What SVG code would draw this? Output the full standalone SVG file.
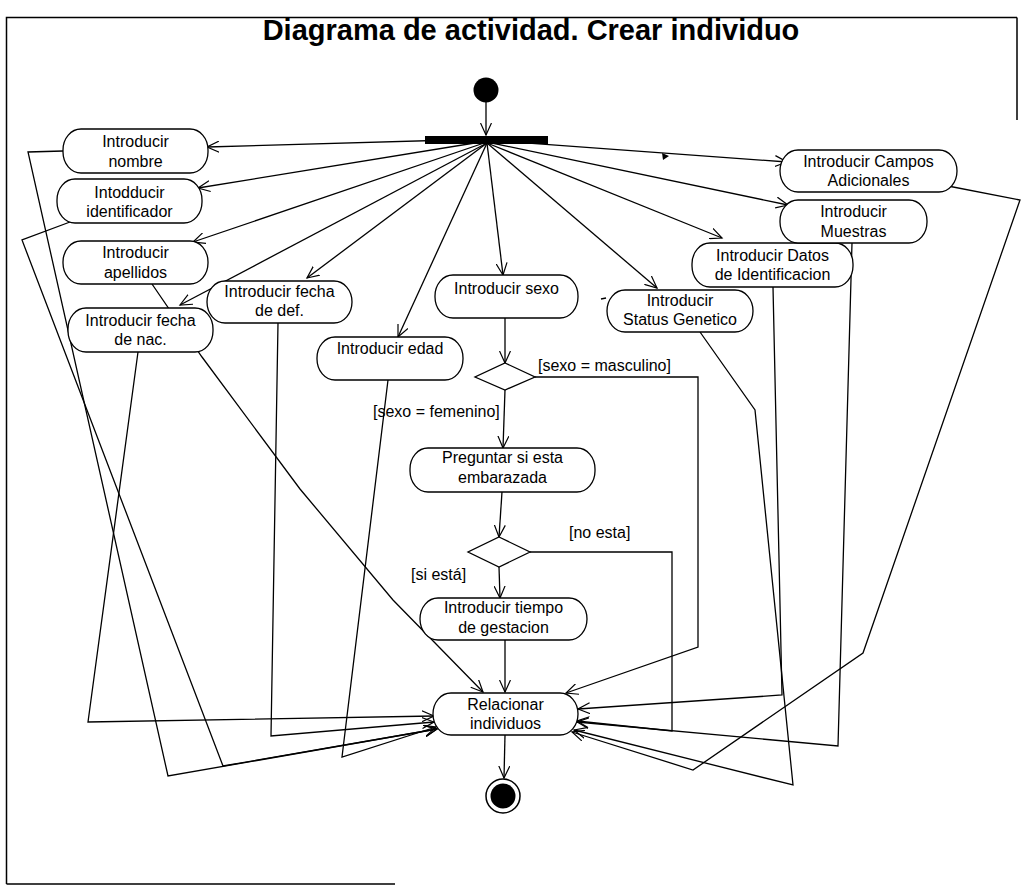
<svg xmlns="http://www.w3.org/2000/svg" width="1024" height="887" viewBox="0 0 1024 887">
  <style>
    .frame { stroke: #000; stroke-width: 1.5; fill: none; }
    .act { fill: #fff; stroke: #000; stroke-width: 1.3; }
    .lbl { font-family: "Liberation Sans", Arial, sans-serif; font-size: 16px; fill: #000; }
    .ctr { text-anchor: middle; }
    .title { font-family: "Liberation Sans", Arial, sans-serif; font-size: 29px; font-weight: bold; text-anchor: middle; fill: #000; }
    .flow { fill: none; stroke: #000; stroke-width: 1.3; stroke-linejoin: miter; }
    .arr { marker-end: url(#open); }
  </style>
  <defs>
    <marker id="open" markerWidth="14" markerHeight="12" refX="12" refY="6" orient="auto" markerUnits="userSpaceOnUse">
      <path d="M0,0.5 L12,6 L0,11.5" fill="none" stroke="#000" stroke-width="1.2"/>
    </marker>
  </defs>

  <rect width="1024" height="887" fill="#fff"/>

  <!-- diagram frame -->
  <g id="frame">
    <path class="frame" d="M6.5,884 L6.5,17.5 L1017,17.5 M1017,17.5 L1017,120 M6.5,884 L395,884"/>
  </g>

  <text class="title" x="531" y="40">Diagrama de actividad. Crear individuo</text>

  <!-- control flows -->
  <g id="connectors">
    <path class="flow arr" d="M486,102 L486,135"/>
    <!-- fork branches -->
    <path class="flow arr" d="M487,139 L207,147"/>
    <path class="flow arr" d="M487,141 L198,188"/>
    <path class="flow arr" d="M487,142 L193,242"/>
    <path class="flow arr" d="M487,143 L180,305"/>
    <path class="flow arr" d="M487,143 L307,278"/>
    <path class="flow arr" d="M487,143 L398,337"/>
    <path class="flow arr" d="M487,143 L503,275"/>
    <path class="flow arr" d="M487,143 L657,288"/>
    <path class="flow arr" d="M487,143 L722,238"/>
    <path class="flow arr" d="M487,142 L788,205"/>
    <path class="flow arr" d="M487,140 L787,162"/>
    <polygon points="662,153 669,156 663,160" fill="#000"/>
    <path class="flow" d="M601,299 L606,298"/>

    <!-- joins into Relacionar individuos -->
    <path class="flow arr" d="M63,151 L28,152 L168,776 L437,729"/>
    <path class="flow arr" d="M70,222 L22,240 L223,766 L437,729"/>
    <path class="flow arr" d="M152,284 L202,357 L300,489 L393,600 L483,692"/>
    <path class="flow arr" d="M138,352 L88,722 L434,716"/>
    <path class="flow arr" d="M278,323 L271,736 L434,722"/>
    <path class="flow arr" d="M388,380 L342,757 L436,727"/>

    <!-- decision flows -->
    <path class="flow arr" d="M505,318 L505,363"/>
    <path class="flow arr" d="M535,377 L698,377 L698,647 L566,693"/>
    <path class="flow arr" d="M505,390 L503,448"/>
    <path class="flow arr" d="M502,492 L499,537"/>
    <path class="flow arr" d="M530,552 L672,552 L672,731 L577,721"/>
    <path class="flow arr" d="M499,567 L500,598"/>
    <path class="flow arr" d="M505,640 L505,692"/>

    <path class="flow arr" d="M700,332 L755,410 L793,785 L574,730"/>
    <path class="flow arr" d="M773,287 L782,695 L578,709"/>
    <path class="flow arr" d="M852,243 L838,746 L577,722"/>
    <path class="flow arr" d="M948,186 L1020,200 L863,653 L693,770 L572,732"/>

    <path class="flow arr" d="M505,735 L504,778"/>
  </g>

  <!-- guard labels -->
  <g id="guards">
    <text class="lbl" x="538" y="371">[sexo = masculino]</text>
    <text class="lbl" x="373" y="417">[sexo = femenino]</text>
    <text class="lbl" x="569" y="538">[no esta]</text>
    <text class="lbl" x="411" y="580">[si está]</text>
  </g>

  <!-- initial node and fork bar -->
  <g id="start">
    <circle cx="486" cy="90" r="12.5" fill="#000"/>
  </g>
  <g id="fork">
    <rect x="425" y="136" width="123" height="8" fill="#000"/>
  </g>

  <!-- activities -->
  <g id="n-nombre">
    <rect class="act" x="63" y="129" width="145" height="44" rx="18" ry="21"/>
    <text class="lbl ctr" x="135.5" y="147">Introducir</text>
    <text class="lbl ctr" x="135.5" y="167">nombre</text>
  </g>
  <g id="n-identificador">
    <rect class="act" x="57" y="179" width="145" height="44" rx="18" ry="21"/>
    <text class="lbl ctr" x="129.5" y="198">Intodducir</text>
    <text class="lbl ctr" x="129.5" y="217">identificador</text>
  </g>
  <g id="n-apellidos">
    <rect class="act" x="63" y="241" width="145" height="43" rx="18" ry="21"/>
    <text class="lbl ctr" x="135.5" y="258">Introducir</text>
    <text class="lbl ctr" x="135.5" y="278">apellidos</text>
  </g>
  <g id="n-fecha-nac">
    <rect class="act" x="68" y="308" width="145" height="44" rx="18" ry="21"/>
    <text class="lbl ctr" x="140.5" y="326">Introducir fecha</text>
    <text class="lbl ctr" x="140.5" y="345">de nac.</text>
  </g>
  <g id="n-fecha-def">
    <rect class="act" x="207" y="281" width="145" height="42" rx="18" ry="21"/>
    <text class="lbl ctr" x="279.5" y="297">Introducir fecha</text>
    <text class="lbl ctr" x="279.5" y="316">de def.</text>
  </g>
  <g id="n-edad">
    <rect class="act" x="317" y="337" width="146" height="43" rx="18" ry="21"/>
    <text class="lbl ctr" x="390" y="354">Introducir edad</text>
  </g>
  <g id="n-sexo">
    <rect class="act" x="435" y="275" width="143" height="43" rx="18" ry="21"/>
    <text class="lbl ctr" x="506.5" y="294">Introducir sexo</text>
  </g>
  <g id="n-status">
    <rect class="act" x="607" y="290" width="146" height="42" rx="18" ry="21"/>
    <text class="lbl ctr" x="680" y="306">Introducir</text>
    <text class="lbl ctr" x="680" y="325">Status Genetico</text>
  </g>
  <g id="n-datos">
    <rect class="act" x="692" y="243" width="161" height="44" rx="18" ry="21"/>
    <text class="lbl ctr" x="772.5" y="261">Introducir Datos</text>
    <text class="lbl ctr" x="772.5" y="280">de Identificacion</text>
  </g>
  <g id="n-muestras">
    <rect class="act" x="780" y="200" width="147" height="43" rx="18" ry="21"/>
    <text class="lbl ctr" x="853.5" y="217">Introducir</text>
    <text class="lbl ctr" x="853.5" y="237">Muestras</text>
  </g>
  <g id="n-campos">
    <rect class="act" x="780" y="150" width="177" height="42" rx="18" ry="21"/>
    <text class="lbl ctr" x="868.5" y="167">Introducir Campos</text>
    <text class="lbl ctr" x="868.5" y="186">Adicionales</text>
  </g>
  <g id="d-sexo">
    <polygon class="act" points="505,363 535,377 505,390 475,377"/>
  </g>
  <g id="n-embarazada">
    <rect class="act" x="410" y="448" width="185" height="44" rx="18" ry="21"/>
    <text class="lbl ctr" x="502.5" y="463">Preguntar si esta</text>
    <text class="lbl ctr" x="502.5" y="483">embarazada</text>
  </g>
  <g id="d-embarazada">
    <polygon class="act" points="499,537 530,552 499,567 468,552"/>
  </g>
  <g id="n-gestacion">
    <rect class="act" x="420" y="598" width="167" height="42" rx="18" ry="21"/>
    <text class="lbl ctr" x="503.5" y="613">Introducir tiempo</text>
    <text class="lbl ctr" x="503.5" y="633">de gestacion</text>
  </g>
  <g id="n-relacionar">
    <rect class="act" x="433" y="693" width="145" height="42" rx="18" ry="21"/>
    <text class="lbl ctr" x="505.5" y="710">Relacionar</text>
    <text class="lbl ctr" x="505.5" y="729">individuos</text>
  </g>

  <!-- final node -->
  <g id="end">
    <circle cx="503" cy="796" r="17" fill="#fff" stroke="#000" stroke-width="1.5"/>
    <circle cx="503" cy="796" r="12.5" fill="#000"/>
  </g>
</svg>
